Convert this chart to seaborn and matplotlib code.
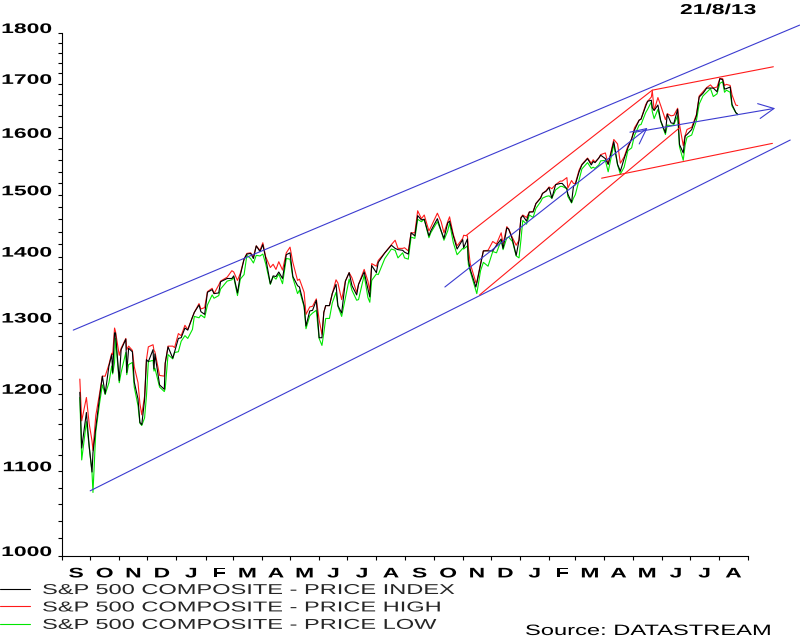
import numpy as np
import pandas as pd
import matplotlib
matplotlib.use('Agg')
import matplotlib.pyplot as plt
import matplotlib.dates as mdates
from matplotlib.patheffects import AbstractPathEffect
from matplotlib.ticker import FixedLocator, FixedFormatter, NullFormatter
from matplotlib.transforms import Affine2D
import seaborn as sns

# S&P 500 composite, sampled from the chart (index / high / low)
dates = [
    '2011-09-20', '2011-09-22', '2011-09-27', '2011-09-30',
    '2011-10-03', '2011-10-04', '2011-10-07', '2011-10-11', '2011-10-14', '2011-10-17', '2011-10-21', '2011-10-24', '2011-10-25', '2011-10-27', '2011-10-28',
    '2011-11-01', '2011-11-03', '2011-11-08', '2011-11-09', '2011-11-11', '2011-11-15', '2011-11-17', '2011-11-21', '2011-11-23', '2011-11-25', '2011-11-28', '2011-11-30',
    '2011-12-02', '2011-12-07', '2011-12-08', '2011-12-09', '2011-12-14', '2011-12-19', '2011-12-20', '2011-12-23', '2011-12-28', '2011-12-30',
    '2012-01-03', '2012-01-06', '2012-01-10', '2012-01-13', '2012-01-18', '2012-01-20', '2012-01-25', '2012-01-27', '2012-01-31',
    '2012-02-03', '2012-02-08', '2012-02-10', '2012-02-15', '2012-02-17', '2012-02-24', '2012-02-29',
    '2012-03-02', '2012-03-06', '2012-03-09', '2012-03-13', '2012-03-16', '2012-03-20', '2012-03-23', '2012-03-26', '2012-03-30',
    '2012-04-02', '2012-04-05', '2012-04-10', '2012-04-13', '2012-04-16', '2012-04-19', '2012-04-23', '2012-04-27',
    '2012-05-01', '2012-05-04', '2012-05-09', '2012-05-11', '2012-05-16', '2012-05-18', '2012-05-22', '2012-05-25', '2012-05-29',
    '2012-06-01', '2012-06-04', '2012-06-06', '2012-06-08', '2012-06-12', '2012-06-15', '2012-06-19', '2012-06-21', '2012-06-25', '2012-06-29',
    '2012-07-03', '2012-07-06', '2012-07-11', '2012-07-13', '2012-07-19', '2012-07-23', '2012-07-25', '2012-07-27',
    '2012-08-01', '2012-08-03', '2012-08-10', '2012-08-17', '2012-08-21', '2012-08-24', '2012-08-29', '2012-08-31',
    '2012-09-04', '2012-09-07', '2012-09-11', '2012-09-14', '2012-09-18', '2012-09-21', '2012-09-26', '2012-09-28',
    '2012-10-05', '2012-10-09', '2012-10-12', '2012-10-16', '2012-10-18', '2012-10-22', '2012-10-26',
    '2012-11-01', '2012-11-02', '2012-11-06', '2012-11-07', '2012-11-09', '2012-11-15', '2012-11-16', '2012-11-20', '2012-11-23', '2012-11-28',
    '2012-12-03', '2012-12-07', '2012-12-12', '2012-12-14', '2012-12-18', '2012-12-20', '2012-12-24', '2012-12-28', '2012-12-31',
    '2013-01-02', '2013-01-04', '2013-01-08', '2013-01-11', '2013-01-15', '2013-01-18', '2013-01-23', '2013-01-25', '2013-01-29',
    '2013-02-01', '2013-02-04', '2013-02-08', '2013-02-13', '2013-02-15', '2013-02-20', '2013-02-21', '2013-02-25', '2013-02-27',
    '2013-03-01', '2013-03-05', '2013-03-08', '2013-03-14', '2013-03-18', '2013-03-20', '2013-03-22', '2013-03-26', '2013-03-28',
    '2013-04-02', '2013-04-05', '2013-04-11', '2013-04-15', '2013-04-18', '2013-04-22', '2013-04-26', '2013-04-30',
    '2013-05-03', '2013-05-08', '2013-05-10', '2013-05-15', '2013-05-17', '2013-05-21', '2013-05-22', '2013-05-24', '2013-05-28', '2013-05-31',
    '2013-06-05', '2013-06-07', '2013-06-11', '2013-06-14', '2013-06-18', '2013-06-20', '2013-06-24', '2013-06-26', '2013-06-28',
    '2013-07-03', '2013-07-08', '2013-07-11', '2013-07-15', '2013-07-19', '2013-07-23', '2013-07-26', '2013-07-30',
    '2013-08-02', '2013-08-05', '2013-08-07', '2013-08-09', '2013-08-13', '2013-08-15', '2013-08-19', '2013-08-21',
]
price_index = [
    1202, 1129, 1175, 1131,
    1099, 1123, 1155, 1195, 1224, 1200, 1238, 1254, 1229, 1285, 1285,
    1218, 1261, 1276, 1229, 1263, 1258, 1216, 1193, 1162, 1159, 1192, 1247,
    1244, 1261, 1234, 1255, 1212, 1206, 1242, 1265, 1249, 1258,
    1277, 1278, 1292, 1289, 1308, 1315, 1326, 1316, 1312,
    1345, 1349, 1343, 1344, 1361, 1366, 1366,
    1370, 1344, 1371, 1396, 1404, 1405, 1397, 1417, 1408,
    1419, 1398, 1358, 1370, 1369, 1376, 1366, 1403,
    1406, 1369, 1355, 1353, 1325, 1295, 1317, 1318, 1333,
    1278, 1278, 1315, 1325, 1325, 1343, 1357, 1325, 1314, 1362,
    1375, 1355, 1341, 1357, 1376, 1350, 1338, 1386,
    1375, 1391, 1406, 1418, 1413, 1411, 1410, 1407,
    1404, 1438, 1433, 1466, 1459, 1460, 1433, 1441,
    1461, 1441, 1429, 1454, 1457, 1433, 1412,
    1427, 1414, 1428, 1395, 1380, 1353, 1359, 1387, 1409, 1409,
    1409, 1418, 1428, 1413, 1446, 1444, 1427, 1402, 1426,
    1462, 1466, 1457, 1472, 1472, 1486, 1495, 1503, 1507,
    1513, 1495, 1518, 1520, 1520, 1511, 1502, 1488, 1515,
    1518, 1540, 1552, 1563, 1552, 1558, 1556, 1564, 1569,
    1563, 1553, 1593, 1553, 1541, 1563, 1582, 1598,
    1614, 1632, 1634, 1658, 1667, 1669, 1655, 1650, 1660, 1631,
    1609, 1643, 1627, 1626, 1652, 1588, 1573, 1603, 1606,
    1615, 1640, 1675, 1682, 1692, 1692, 1692, 1685,
    1710, 1708, 1690, 1691, 1694, 1661, 1646, 1643,
]
price_high = [
    1220, 1164, 1195, 1160,
    1138, 1126, 1171, 1200, 1224, 1224, 1240, 1256, 1254, 1292, 1287,
    1253, 1263, 1277, 1261, 1266, 1260, 1237, 1215, 1187, 1172, 1197, 1247,
    1265, 1268, 1260, 1258, 1225, 1224, 1242, 1266, 1266, 1264,
    1284, 1281, 1296, 1290, 1308, 1315, 1328, 1320, 1322,
    1346, 1351, 1343, 1356, 1362, 1368, 1378,
    1376, 1363, 1374, 1396, 1405, 1406, 1400, 1417, 1410,
    1422, 1400, 1383, 1388, 1380, 1392, 1379, 1406,
    1415, 1391, 1363, 1365, 1345, 1312, 1323, 1324, 1335,
    1304, 1283, 1315, 1325, 1325, 1343, 1364, 1359, 1334, 1362,
    1375, 1367, 1345, 1357, 1380, 1362, 1347, 1389,
    1385, 1394, 1406, 1419, 1426, 1413, 1413, 1414,
    1409, 1438, 1438, 1474, 1461, 1467, 1441, 1447,
    1470, 1456, 1438, 1456, 1464, 1435, 1417,
    1429, 1434, 1433, 1414, 1389, 1360, 1360, 1389, 1409, 1410,
    1424, 1420, 1438, 1420, 1448, 1444, 1430, 1418, 1426,
    1463, 1467, 1463, 1472, 1473, 1486, 1496, 1503, 1508,
    1514, 1511, 1518, 1524, 1524, 1530, 1512, 1525, 1520,
    1520, 1543, 1553, 1564, 1555, 1561, 1557, 1564, 1570,
    1573, 1553, 1597, 1589, 1555, 1566, 1585, 1598,
    1618, 1632, 1634, 1661, 1667, 1675, 1687, 1650, 1674, 1659,
    1633, 1644, 1640, 1641, 1654, 1624, 1586, 1604, 1615,
    1619, 1642, 1677, 1685, 1693, 1698, 1692, 1694,
    1710, 1710, 1697, 1699, 1697, 1679, 1660, 1659,
]
price_low = [
    1195, 1114, 1163, 1130,
    1098, 1074, 1150, 1187, 1212, 1199, 1215, 1238, 1227, 1243, 1277,
    1215, 1229, 1257, 1226, 1240, 1243, 1209, 1184, 1161, 1158, 1168, 1197,
    1244, 1246, 1231, 1235, 1209, 1203, 1207, 1254, 1248, 1257,
    1258, 1273, 1281, 1277, 1290, 1309, 1307, 1311, 1307,
    1326, 1341, 1336, 1340, 1350, 1362, 1364,
    1368, 1340, 1365, 1372, 1402, 1397, 1390, 1402, 1401,
    1404, 1389, 1357, 1369, 1365, 1373, 1358, 1397,
    1396, 1367, 1343, 1348, 1323, 1291, 1310, 1314, 1318,
    1277, 1267, 1285, 1306, 1306, 1329, 1345, 1324, 1309, 1337,
    1365, 1348, 1333, 1334, 1371, 1337, 1330, 1363,
    1373, 1372, 1397, 1412, 1410, 1398, 1406, 1398,
    1396, 1431, 1429, 1460, 1456, 1460, 1430, 1438,
    1456, 1441, 1426, 1441, 1454, 1422, 1403,
    1413, 1412, 1417, 1388, 1377, 1348, 1343, 1378, 1391, 1385,
    1408, 1406, 1426, 1411, 1430, 1431, 1424, 1401, 1398,
    1426, 1458, 1452, 1467, 1463, 1478, 1489, 1495, 1498,
    1499, 1495, 1509, 1515, 1515, 1511, 1498, 1487, 1495,
    1501, 1526, 1545, 1556, 1546, 1548, 1546, 1552, 1559,
    1560, 1540, 1588, 1552, 1536, 1548, 1577, 1582,
    1604, 1623, 1624, 1646, 1652, 1666, 1648, 1635, 1652, 1630,
    1606, 1623, 1622, 1624, 1640, 1584, 1560, 1587, 1601,
    1605, 1631, 1662, 1677, 1684, 1691, 1676, 1681,
    1701, 1704, 1684, 1688, 1684, 1658, 1646, 1642,
]

# hand-drawn trend lines (start, end)
blue_upper_x = ['2011-09-13', '2013-10-26']
blue_upper_y = [1289, 1816]
blue_lower_x = ['2011-10-01', '2013-10-16']
blue_lower_y = [1076, 1596]
red_rise_top_x = ['2012-11-05', '2013-05-22']
red_rise_top_y = [1434, 1688]
red_rise_bot_x = ['2012-11-19', '2013-06-20']
red_rise_bot_y = [1341, 1618]
red_top_x = ['2013-05-22', '2013-09-28']
red_top_y = [1688, 1733]
red_base_x = ['2013-03-29', '2013-09-27']
red_base_y = [1529, 1590]
arrow1_x = ['2012-10-13', '2013-05-17']
arrow1_y = [1353, 1618]
arrow2_x = ['2013-05-03', '2013-09-30']
arrow2_y = [1610, 1654]

month_labels = ['S', 'O', 'N', 'D', 'J', 'F', 'M', 'A', 'M', 'J', 'J', 'A',
                'S', 'O', 'N', 'D', 'J', 'F', 'M', 'A', 'M', 'J', 'J', 'A']
y_major = [1000, 1100, 1200, 1300, 1400, 1500, 1600, 1700, 1800]
legend_labels = ['S&P 500 COMPOSITE - PRICE INDEX',
                 'S&P 500 COMPOSITE - PRICE HIGH',
                 'S&P 500 COMPOSITE - PRICE LOW']

BLUE = '#3b3bd0'
RED = '#ff1a1a'
GREEN = '#00e600'
SX = 1.65  # the original lettering is wide


class Stretch(AbstractPathEffect):
    """Draw text glyphs widened horizontally."""
    def __init__(self, sx, anchor='left'):
        super().__init__()
        self.sx = sx
        self.anchor = anchor

    def draw_path(self, renderer, gc, tpath, affine, rgbFace=None):
        if len(tpath.vertices) == 0:
            return
        ext = tpath.get_extents()
        x0 = {'left': 0.0, 'center': (ext.x0 + ext.x1) / 2, 'right': ext.x1}[self.anchor]
        t = Affine2D().translate(-x0, 0).scale(self.sx, 1).translate(x0, 0) + affine
        renderer.draw_path(gc, tpath, t, rgbFace)


sns.set_theme(style='ticks')
plt.rcParams['font.family'] = ['Liberation Sans', 'DejaVu Sans']

df = pd.DataFrame({'date': pd.to_datetime(dates), 'index': price_index,
                   'high': price_high, 'low': price_low})

fig = plt.figure(figsize=(8, 6.39), dpi=100)
ax = fig.add_axes([62 / 800, 1 - 556 / 639, 686 / 800, 523 / 639])

sns.lineplot(data=df, x='date', y='high', color=RED, lw=0.8, ax=ax, zorder=2)
line_high = ax.lines[-1]
sns.lineplot(data=df, x='date', y='low', color=GREEN, lw=0.8, ax=ax, zorder=2)
line_low = ax.lines[-1]
sns.lineplot(data=df, x='date', y='index', color='black', lw=0.8, ax=ax, zorder=3)
line_index = ax.lines[-1]

for xs, ys, c in [(blue_upper_x, blue_upper_y, BLUE), (blue_lower_x, blue_lower_y, BLUE),
                  (red_rise_top_x, red_rise_top_y, RED), (red_rise_bot_x, red_rise_bot_y, RED),
                  (red_top_x, red_top_y, RED), (red_base_x, red_base_y, RED)]:
    ax.plot(pd.to_datetime(xs), ys, color=c, lw=0.8, clip_on=False, zorder=4)

for xs, ys in [(arrow1_x, arrow1_y), (arrow2_x, arrow2_y)]:
    xn = mdates.date2num(pd.to_datetime(xs))
    ax.annotate('', xy=(xn[1], ys[1]), xytext=(xn[0], ys[0]), annotation_clip=False,
                arrowprops=dict(arrowstyle='->,head_length=0.55,head_width=0.27',
                                color=BLUE, lw=0.8, mutation_scale=20,
                                shrinkA=0, shrinkB=0), zorder=4)

ax.set_yscale('log')
ax.set_ylim(1000, 1800)
ax.set_xlim(pd.Timestamp('2011-09-01'), pd.Timestamp('2013-09-01'))
ax.set_xlabel('')
ax.set_ylabel('')

# x axis: ticks at month starts, letters centred in each month
month_starts = pd.date_range('2011-09-01', '2013-09-01', freq='MS')
mids = month_starts[:-1] + (month_starts[1:] - month_starts[:-1]) / 2
ax.xaxis.set_major_locator(FixedLocator(mdates.date2num(month_starts)))
ax.xaxis.set_major_formatter(NullFormatter())
ax.xaxis.set_minor_locator(FixedLocator(mdates.date2num(mids)))
ax.xaxis.set_minor_formatter(FixedFormatter(month_labels))
ax.tick_params(axis='x', which='major', length=3, width=0.8, color='black', direction='out')
ax.tick_params(axis='x', which='minor', length=0, pad=7.5, labelsize=10, labelcolor='black')

# y axis: log scale, labels every 100, minor ticks every 20
ax.yaxis.set_major_locator(FixedLocator(y_major))
ax.yaxis.set_major_formatter(FixedFormatter([str(v) for v in y_major]))
ax.yaxis.set_minor_locator(FixedLocator(list(range(1000, 1800, 20))))
ax.yaxis.set_minor_formatter(NullFormatter())
ax.tick_params(axis='y', which='both', length=3, width=0.8, color='black', direction='out')
ax.tick_params(axis='y', which='major', pad=4.3, labelsize=10, labelcolor='black')

for lbl in ax.get_xticklabels(minor=True):
    lbl.set_fontweight('bold')
    lbl.set_path_effects([Stretch(SX, 'center')])
for lbl in ax.get_yticklabels():
    lbl.set_fontweight('bold')
    lbl.set_verticalalignment('baseline')
    lbl.set_path_effects([Stretch(SX, 'right')])

sns.despine(ax=ax)
for side in ['left', 'bottom']:
    ax.spines[side].set_color('black')
    ax.spines[side].set_linewidth(0.8)

leg = fig.legend([line_index, line_high, line_low], legend_labels, loc='upper left',
                 bbox_to_anchor=(0, 1 - 583 / 639), frameon=False, fontsize=10.3,
                 handlelength=2.1, handletextpad=0.84, labelspacing=0.24,
                 borderpad=0, borderaxespad=0)
for t in leg.get_texts():
    t.set_path_effects([Stretch(SX, 'left')])

fig.text(525 / 800, 1 - 635 / 639, 'Source: DATASTREAM', fontsize=10.8, va='baseline',
         color='black', path_effects=[Stretch(1.58, 'left')])
fig.text(680 / 800, 1 - 14 / 639, '21/8/13', fontsize=10.3, fontweight='bold', va='baseline',
         color='black', path_effects=[Stretch(1.6, 'left')])

fig.savefig('out.png', dpi=100, facecolor='white')
